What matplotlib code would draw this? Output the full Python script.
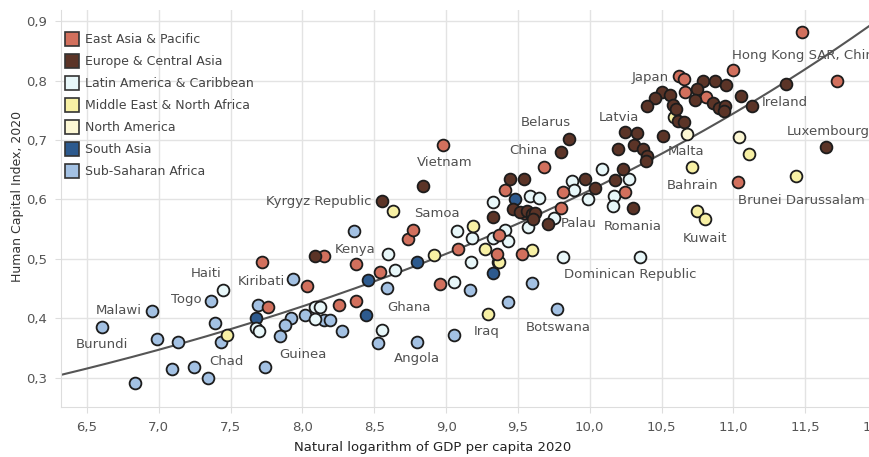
import numpy as np
import matplotlib
matplotlib.use("Agg")
import matplotlib.pyplot as plt
from matplotlib.lines import Line2D
from matplotlib.ticker import FuncFormatter, MultipleLocator

# ---- data (ln GDP per capita, HCI) ----
ssa_x = [6.607, 6.955, 6.99, 7.136, 7.09, 7.247, 7.345, 6.834, 7.361, 7.39, 7.43, 7.689, 7.74,
         7.937, 7.918, 7.879, 7.844, 8.018, 8.15, 8.19, 8.273, 8.359, 8.587, 8.529, 8.796,
         9.167, 9.052, 9.429, 9.601, 9.775]
ssa_y = [0.386, 0.413, 0.365, 0.361, 0.315, 0.319, 0.299, 0.292, 0.430, 0.392, 0.361, 0.423, 0.318,
         0.467, 0.401, 0.389, 0.371, 0.406, 0.397, 0.398, 0.378, 0.547, 0.451, 0.359, 0.361,
         0.447, 0.372, 0.428, 0.460, 0.415]

sas_x = [9.48, 7.68, 8.441, 8.459, 8.794, 9.33]
sas_y = [0.601, 0.401, 0.406, 0.464, 0.494, 0.477]

eap_x = [7.72, 7.758, 8.034, 8.15, 8.257, 8.373, 8.373, 8.54, 8.737, 8.77, 8.981, 8.958, 9.085,
         9.353, 9.371, 9.411, 9.527, 9.685, 9.80, 9.817, 10.248, 10.625, 10.657, 10.664, 10.81,
         10.994, 11.481, 11.725, 11.031, 9.54]
eap_y = [0.494, 0.420, 0.454, 0.505, 0.423, 0.430, 0.492, 0.478, 0.533, 0.549, 0.692, 0.458, 0.516,
         0.509, 0.541, 0.616, 0.509, 0.654, 0.585, 0.612, 0.613, 0.808, 0.802, 0.781, 0.772,
         0.817, 0.882, 0.799, 0.629, 0.577]

eca_x = [8.09, 8.552, 8.842, 9.33, 9.446, 9.539, 9.469, 9.515, 9.562, 9.597, 9.62, 9.608, 9.708,
         9.799, 9.859, 9.968, 10.038, 10.177, 10.235, 10.30, 10.248, 10.329, 10.2, 10.305, 10.374,
         10.398, 10.393, 10.509, 10.792, 10.873, 10.947, 10.746, 10.734, 10.861, 10.903, 10.943,
         10.932, 10.502, 10.455, 10.56, 10.40, 10.578, 10.598, 10.612, 10.654, 11.054, 11.128,
         11.364, 11.644]
eca_y = [0.505, 0.598, 0.623, 0.570, 0.634, 0.635, 0.584, 0.579, 0.581, 0.575, 0.578, 0.567, 0.558,
         0.679, 0.701, 0.635, 0.619, 0.632, 0.651, 0.585, 0.713, 0.711, 0.685, 0.692, 0.685,
         0.673, 0.665, 0.707, 0.800, 0.799, 0.792, 0.786, 0.767, 0.762, 0.753, 0.757,
         0.748, 0.780, 0.771, 0.776, 0.757, 0.759, 0.752, 0.732, 0.730, 0.774, 0.758,
         0.795, 0.689]

lac_x = [7.445, 7.68, 7.70, 8.088, 8.122, 8.088, 8.552, 8.593, 8.645, 9.052, 9.075, 9.18, 9.173,
         9.326, 9.326, 9.411, 9.434, 9.364, 9.573, 9.752, 9.813, 9.582, 9.645, 9.875, 9.888,
         9.991, 10.084, 10.27, 10.166, 10.161, 10.351]
lac_y = [0.447, 0.384, 0.378, 0.419, 0.420, 0.399, 0.381, 0.509, 0.481, 0.461, 0.547, 0.536, 0.495,
         0.596, 0.536, 0.549, 0.530, 0.494, 0.554, 0.568, 0.503, 0.605, 0.603, 0.631, 0.616,
         0.600, 0.652, 0.634, 0.606, 0.589, 0.504]

mena_x = [7.473, 8.633, 8.916, 9.19, 9.295, 9.272, 9.371, 9.597, 10.711, 10.746, 10.804, 11.112,
          11.435, 10.59]
mena_y = [0.372, 0.581, 0.506, 0.555, 0.408, 0.516, 0.495, 0.515, 0.654, 0.581, 0.567, 0.676,
          0.640, 0.738]

nam_x = [11.04, 10.676]
nam_y = [0.705, 0.710]

regions = ["East Asia & Pacific", "Europe & Central Asia", "Latin America & Caribbean",
           "Middle East & North Africa", "North America", "South Asia", "Sub-Saharan Africa"]
colors = ["#d2705d", "#5b3427", "#e8f7f9", "#f7f0a4", "#fcf7d4", "#2d5a8e", "#a3c1e3"]
series = [(eap_x, eap_y), (eca_x, eca_y), (lac_x, lac_y), (mena_x, mena_y),
          (nam_x, nam_y), (sas_x, sas_y), (ssa_x, ssa_y)]
draw_order = [5, 6, 2, 3, 4, 0, 1]

labels = ["Hong Kong SAR, China", "Japan", "Ireland", "Luxembourg", "Malta", "Bahrain",
          "Brunei Darussalam", "Kuwait", "Latvia", "Belarus", "China", "Vietnam",
          "Kyrgyz Republic", "Samoa", "Kenya", "Ghana", "Iraq", "Botswana", "Palau", "Romania",
          "Dominican Republic", "Angola", "Guinea", "Chad", "Kiribati", "Haiti", "Togo",
          "Malawi", "Burundi"]
label_x = [10.99, 10.55, 11.20, 11.372, 10.54, 10.537, 11.033, 10.65, 10.06, 9.52, 9.44, 8.795,
           8.478, 8.774, 8.227, 8.587, 9.19, 9.555, 9.80, 10.10, 9.82, 8.64, 7.84, 7.352, 7.547,
           7.224, 7.083, 6.56, 6.423]
label_y = [0.842, 0.805, 0.763, 0.715, 0.680, 0.623, 0.598, 0.535, 0.737, 0.729, 0.682, 0.6625,
           0.597, 0.577, 0.516, 0.419, 0.378, 0.384, 0.560, 0.554, 0.474, 0.333, 0.340, 0.327,
           0.4625, 0.4755, 0.432, 0.413, 0.356]
label_ha = ["left", "right", "left", "left", "left", "left", "left", "left", "left", "left", "left",
            "left", "right", "left", "left", "left", "left", "left", "left", "left", "left",
            "left", "left", "left", "left", "left", "left", "left", "left"]

# ---- figure ----
fig = plt.figure(figsize=(8.69, 4.57), dpi=100)
ax = fig.add_axes([61 / 869, 50 / 457, 816 / 869, 397 / 457])

for i in draw_order:
    sx, sy = series[i]
    ax.scatter(sx, sy, s=72, color=colors[i], edgecolor="#1c1c1c", linewidth=1.3, zorder=3)

# exponential trend fitted to all points
all_x = np.concatenate([np.array(s[0]) for s in series])
all_y = np.concatenate([np.array(s[1]) for s in series])
b, a = np.polyfit(all_x, np.log(all_y), 1)
xx = np.linspace(6.3, 12.0, 200)
ax.plot(xx, np.exp(a + b * xx), color="#555555", lw=1.5, zorder=2)

for t, lx, ly, ha in zip(labels, label_x, label_y, label_ha):
    ax.text(lx, ly, t, ha=ha, va="center", fontsize=9.5, color="#505050", zorder=4)

ax.set_xlim(6.319, 12.0)
ax.set_ylim(0.251, 0.9186)
ax.xaxis.set_major_locator(MultipleLocator(0.5))
ax.yaxis.set_major_locator(MultipleLocator(0.1))
comma = FuncFormatter(lambda v, p: f"{v:.1f}".replace(".", ","))
ax.xaxis.set_major_formatter(comma)
ax.yaxis.set_major_formatter(comma)
ax.tick_params(colors="#dddddd", labelcolor="#555555", labelsize=9.5, length=4, pad=6)
ax.grid(True, color="#e3e3e3", lw=1)
ax.set_axisbelow(True)
for s in ["top", "right"]:
    ax.spines[s].set_visible(False)
for s in ["left", "bottom"]:
    ax.spines[s].set_color("#dddddd")

ax.set_ylabel("Human Capital Index, 2020", fontsize=9, color="#333333")
ax.yaxis.set_label_coords(-0.045, 0.53)
ax.set_xlabel("Natural logarithm of GDP per capita 2020", fontsize=9.5, color="#222222")
ax.xaxis.set_label_coords(0.455, -0.085)

handles = [Line2D([], [], marker="s", ls="", markersize=10, markerfacecolor=c,
                  markeredgecolor="#333333", markeredgewidth=1.2) for c in colors]
ax.legend(handles, regions, loc="upper left", bbox_to_anchor=(-0.003, 0.96), frameon=False,
          fontsize=9, labelcolor="#444444", handlelength=1.0, handletextpad=0.5,
          labelspacing=0.72, borderaxespad=0.2)

fig.savefig("out.png", dpi=100)
